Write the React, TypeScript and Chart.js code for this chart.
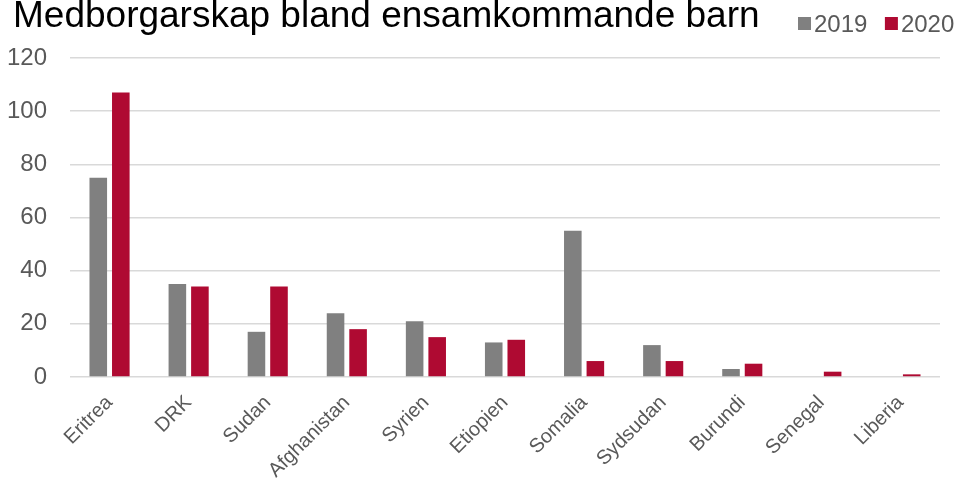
import React, { useEffect, useRef } from "react";
import { Chart, registerables } from "chart.js";

Chart.register(...registerables);

const titleText = "Medborgarskap bland ensamkommande barn";
const categories = [
  "Eritrea",
  "DRK",
  "Sudan",
  "Afghanistan",
  "Syrien",
  "Etiopien",
  "Somalia",
  "Sydsudan",
  "Burundi",
  "Senegal",
  "Liberia",
];
const seriesLabels = ["2019", "2020"];
const values2019 = [75, 35, 17, 24, 21, 13, 55, 12, 3, 0, 0];
const values2020 = [107, 34, 34, 18, 15, 14, 6, 6, 5, 2, 1];
const yTicks = [0, 20, 40, 60, 80, 100, 120];

const FONT = '"Liberation Sans", Arial, sans-serif';
const GRAY = "#808080";
const RED = "#AF0A32";
const TEXT = "#595959";

const headerPlugin = {
  id: "headerPlugin",
  afterDraw(chart: any) {
    const ctx = chart.ctx as CanvasRenderingContext2D;
    ctx.save();
    ctx.textAlign = "left";
    ctx.textBaseline = "alphabetic";
    ctx.fillStyle = "#000000";
    ctx.font = `37px ${FONT}`;
    ctx.fillText(titleText, 13, 27);

    ctx.font = `24px ${FONT}`;
    const colors = [GRAY, RED];
    let x = 798;
    seriesLabels.forEach((lab, i) => {
      ctx.fillStyle = colors[i];
      ctx.fillRect(x, 17, 13, 13);
      ctx.fillStyle = TEXT;
      ctx.fillText(lab, x + 16, 31.5);
      const w = ctx.measureText(lab).width;
      x = x + 16 + w + 17.5;
    });
    ctx.restore();
  },
};

export default function App() {
  const ref = useRef<HTMLCanvasElement | null>(null);

  useEffect(() => {
    if (!ref.current) return;
    const chart = new Chart(ref.current, {
      type: "bar",
      data: {
        labels: categories,
        datasets: [
          {
            label: seriesLabels[0],
            data: values2019,
            backgroundColor: GRAY,
            categoryPercentage: 0.57,
            barPercentage: 0.78,
          },
          {
            label: seriesLabels[1],
            data: values2020,
            backgroundColor: RED,
            categoryPercentage: 0.57,
            barPercentage: 0.78,
          },
        ],
      },
      options: {
        responsive: false,
        animation: false,
        devicePixelRatio: 1,
        layout: { padding: { top: 58, right: 16, left: 0, bottom: 0 } },
        plugins: {
          legend: { display: false },
          title: { display: false },
          tooltip: { enabled: false },
        },
        scales: {
          x: {
            grid: { display: false },
            border: { display: false },
            ticks: {
              font: { family: FONT, size: 20 },
              color: TEXT,
              minRotation: 45,
              maxRotation: 45,
              autoSkip: false,
              padding: 6,
            },
            afterFit: (s: any) => {
              s.height = 103;
            },
          },
          y: {
            min: 0,
            max: 120,
            afterBuildTicks: (s: any) => {
              s.ticks = yTicks.map((v) => ({ value: v }));
            },
            ticks: {
              font: { family: FONT, size: 24 },
              color: TEXT,
              padding: 23,
            },
            grid: { color: "#d9d9d9", lineWidth: 1.5, drawTicks: false },
            border: { display: false },
            afterFit: (s: any) => {
              s.width = 70;
            },
          },
        },
      },
      plugins: [headerPlugin],
    });
    return () => chart.destroy();
  }, []);

  return (
    <div style={{ position: "absolute", left: 0, top: 0, width: 956, height: 480, background: "#fff" }}>
      <canvas ref={ref} width={956} height={480} style={{ display: "block" }} />
    </div>
  );
}
